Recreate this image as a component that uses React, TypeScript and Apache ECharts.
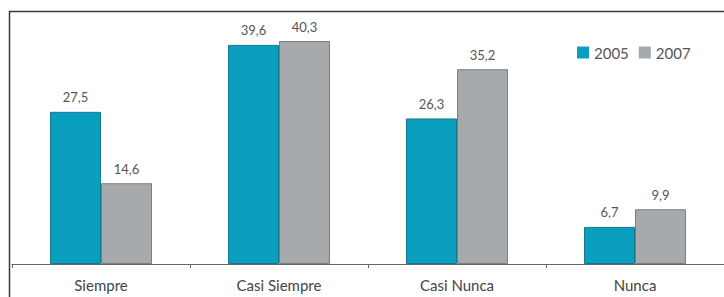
import React, { useEffect, useRef } from "react";
import * as echarts from "echarts";

const categories = ["Siempre", "Casi Siempre", "Casi Nunca", "Nunca"];
const values2005 = [27.5, 39.6, 26.3, 6.7];
const values2007 = [14.6, 40.3, 35.2, 9.9];
const seriesNames = ["2005", "2007"];

const fmt = (v: number) => v.toFixed(1).replace(".", ",");

export default function App() {
  const ref = useRef<HTMLDivElement>(null);
  useEffect(() => {
    if (!ref.current) return;
    const chart = echarts.init(ref.current, undefined, { renderer: "svg" });
    const labelStyle = {
      show: true,
      position: "top" as const,
      distance: 8,
      color: "#555",
      fontSize: 13,
      fontFamily: "Lato",
      formatter: (p: any) => fmt(p.value),
    };
    chart.setOption({
      animation: false,
      backgroundColor: "#fff",
      textStyle: { fontFamily: "Lato" },
      graphic: [
        {
          type: "rect",
          shape: { x: 9.5, y: 11.5, width: 800, height: 400 },
          style: { fill: "none", stroke: "#3a3a3a", lineWidth: 1.5 },
          silent: true,
          z: 100,
        },
      ],
      legend: {
        data: seriesNames,
        left: 572,
        top: 40,
        itemWidth: 12,
        itemHeight: 12,
        itemGap: 10,
        icon: "rect",
        itemStyle: { borderWidth: 0 },
        textStyle: { color: "#555", fontSize: 15, fontFamily: "Lato" },
      },
      grid: { left: 12, right: 0, top: 15, bottom: 33, containLabel: false },
      xAxis: {
        type: "category",
        data: categories,
        axisLine: { lineStyle: { color: "#666", width: 1 } },
        axisTick: { show: true, length: 4, lineStyle: { color: "#666" } },
        axisLabel: { color: "#444", fontSize: 15, fontFamily: "Lato", margin: 13 },
      },
      yAxis: {
        type: "value",
        min: 0,
        max: 45,
        show: false,
        splitLine: { show: false },
      },
      series: [
        {
          name: seriesNames[0],
          type: "bar",
          data: values2005,
          barWidth: 51,
          barGap: "0%",
          itemStyle: { color: "#0a9ebf", borderColor: "#17778c", borderWidth: 1 },
          label: labelStyle,
        },
        {
          name: seriesNames[1],
          type: "bar",
          data: values2007,
          barWidth: 51,
          barGap: "0%",
          itemStyle: { color: "#a7aaac", borderColor: "#7b7f82", borderWidth: 1 },
          label: labelStyle,
        },
      ],
    });
    return () => chart.dispose();
  }, []);
  return (
    <div
      ref={ref}
      style={{ position: "fixed", left: 0, top: 0, width: 724, height: 297 }}
    />
  );
}
